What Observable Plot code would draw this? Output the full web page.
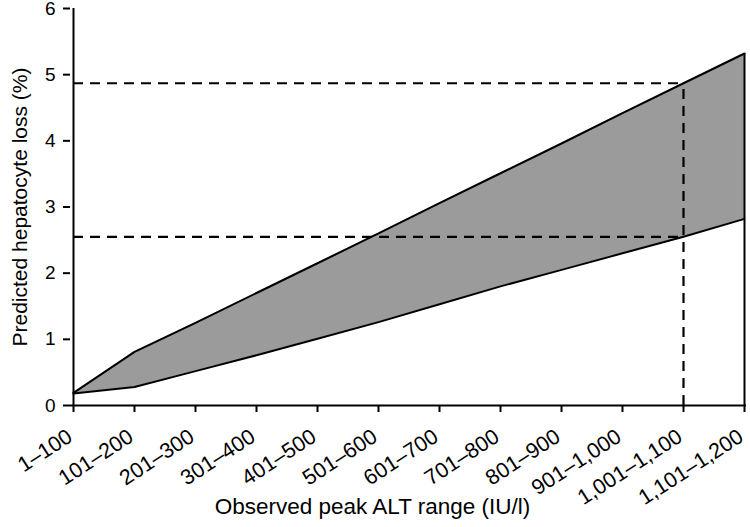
<!DOCTYPE html>
<html>
<head>
<meta charset="utf-8">
<script src="https://cdn.jsdelivr.net/npm/d3@7"></script>
<script src="https://cdn.jsdelivr.net/npm/@observablehq/plot@0.6"></script>
<style>
  html, body { margin: 0; padding: 0; background: #fff; }
  svg { font-family: "Liberation Sans", Arial, sans-serif; }
</style>
</head>
<body>
<div id="chart"></div>
<script>
const categories = ["1–100", "101–200", "201–300", "301–400", "401–500", "501–600",
  "601–700", "701–800", "801–900", "901–1,000", "1,001–1,100", "1,101–1,200"];
const upperLoss = [0.19, 0.81, 1.25, 1.70, 2.15, 2.60, 3.06, 3.51, 3.96, 4.42, 4.87, 5.32];
const lowerLoss = [0.18, 0.28, 0.52, 0.76, 1.01, 1.26, 1.53, 1.80, 2.05, 2.30, 2.55, 2.82];
const yTicks = [0, 1, 2, 3, 4, 5, 6];
const refCategory = "1,001–1,100";
const refLevels = [4.87, 2.55];
const xTitle = "Observed peak ALT range (IU/l)";
const yTitle = "Predicted hepatocyte loss (%)";

const data = categories.map((c, i) => ({cat: c, upper: upperLoss[i], lower: lowerLoss[i]}));
const last = data[data.length - 1];

const chart = Plot.plot({
  width: 750,
  height: 527,
  marginLeft: 70,
  marginRight: 4,
  marginTop: 8,
  marginBottom: 122,
  style: {fontFamily: "Liberation Sans, Arial, sans-serif", fontSize: "18px", color: "#000", background: "#fff"},
  x: {type: "point", domain: categories, padding: 0},
  y: {domain: [0, 6]},
  marks: [
    Plot.areaY(data, {x: "cat", y1: "lower", y2: "upper", fill: "#9b9b9b"}),
    Plot.lineY(data, {x: "cat", y: "upper", stroke: "#000", strokeWidth: 2}),
    Plot.lineY(data, {x: "cat", y: "lower", stroke: "#000", strokeWidth: 2}),
    Plot.ruleX([last], {x: "cat", y1: 0, y2: "upper", stroke: "#000", strokeWidth: 2}),
    Plot.ruleY(refLevels, {y: d => d, x1: () => categories[0], x2: () => refCategory, stroke: "#000", strokeWidth: 2.2, strokeDasharray: "10,7"}),
    Plot.ruleX([refCategory], {x: d => d, y1: 0, y2: refLevels[0], stroke: "#000", strokeWidth: 2.2, strokeDasharray: "10,7"}),
    Plot.ruleY([0], {stroke: "#000", strokeWidth: 2}),
    Plot.ruleX([categories[0]], {x: d => d, y1: 0, y2: 6, stroke: "#000", strokeWidth: 2}),
    Plot.axisY(yTicks, {
      tickSize: 7, strokeWidth: 2, fontSize: 19, tickPadding: 8, tickFormat: d => String(d), label: null
    }),
    Plot.axisX({
      tickSize: 7, strokeWidth: 2, tickFormat: () => "", label: null
    }),
    Plot.text(categories, {
      x: d => d, y: () => 0, rotate: -33, textAnchor: "end", lineAnchor: "top",
      dx: -8, dy: 22, fontSize: 21.5, fill: "#000"
    }),
    Plot.text([yTitle], {frameAnchor: "left", rotate: -90, textAnchor: "middle", dx: -50, fontSize: 21, fill: "#000"}),
    Plot.text([xTitle], {frameAnchor: "bottom", dx: -36, dy: 108, fontSize: 22.5, fill: "#000"})
  ]
});
document.getElementById("chart").appendChild(chart);
</script>
</body>
</html>
